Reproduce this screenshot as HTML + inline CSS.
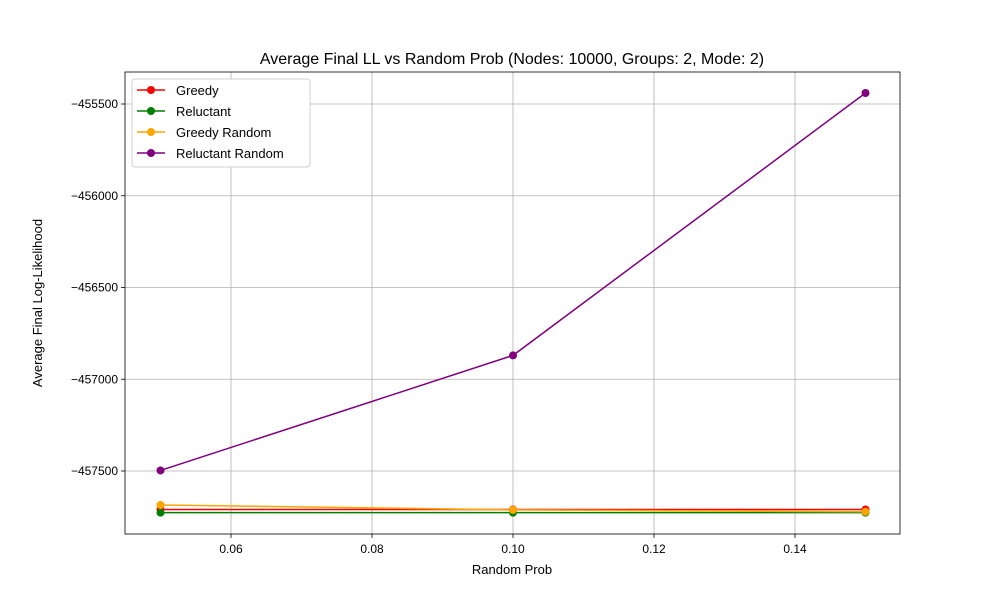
<!DOCTYPE html>
<html><head><meta charset="utf-8"><style>body{margin:0;background:#fff}svg{display:block;font-family:"Liberation Sans","DejaVu Sans",sans-serif}</style></head>
<body>
<svg id="chart" width="1000" height="600"></svg>
<script>
const xValues=[0.05,0.10,0.15];
const seriesNames=["Greedy","Reluctant","Greedy Random","Reluctant Random"];
const seriesColors=["red","green","orange","purple"];
const greedy=[-457710,-457710,-457710];
const reluctant=[-457727,-457727,-457727];
const greedyRandom=[-457685,-457712,-457722];
const reluctantRandom=[-457497,-456870,-455440];
const xTicks=[0.06,0.08,0.10,0.12,0.14];
const xTickLabels=["0.06","0.08","0.10","0.12","0.14"];
const yTicks=[-455500,-456000,-456500,-457000,-457500];
const yTickLabels=["\u2212455500","\u2212456000","\u2212456500","\u2212457000","\u2212457500"];
const allSeries=[greedy,reluctant,greedyRandom,reluctantRandom];
const NS="http://www.w3.org/2000/svg";
const svg=document.getElementById('chart');
const L=125,R=900,T=72,B=534;
function sx(v){return 160.5+(v-0.05)/0.10*705;}
function sy(v){return 104+(-455500-v)/500*91.75;}
function mk(tag,a,p){const e=document.createElementNS(NS,tag);for(const k in a)e.setAttribute(k,a[k]);(p||svg).appendChild(e);return e;}
const title=mk('text',{x:512,y:64,'text-anchor':'middle','font-size':16,fill:'#000'});title.textContent="Average Final LL vs Random Prob (Nodes: 10000, Groups: 2, Mode: 2)";


xTicks.forEach((t,i)=>{const x=sx(t);
const g=mk('line',{x1:x,x2:x,y1:T,y2:B,stroke:'#b0b0b0','stroke-width':0.8});


mk('line',{x1:x,x2:x,y1:B,y2:B+4,stroke:'#000','stroke-width':0.8});
const tx=mk('text',{x:x,y:B+19,'text-anchor':'middle','font-size':12});tx.textContent=xTickLabels[i];

});
yTicks.forEach((t,i)=>{const y=sy(t);
const g=mk('line',{x1:L,x2:R,y1:y,y2:y,stroke:'#b0b0b0','stroke-width':0.8});


mk('line',{x1:L-4,x2:L,y1:y,y2:y,stroke:'#000','stroke-width':0.8});
const tx=mk('text',{x:L-7,y:y+4,'text-anchor':'end','font-size':12});tx.textContent=yTickLabels[i];

});
allSeries.forEach((s,k)=>{
const pl=mk('polyline',{points:s.map((v,i)=>sx(xValues[i])+','+sy(v)).join(' '),fill:'none',stroke:seriesColors[k],'stroke-width':1.5});


s.forEach((v,i)=>{const c=mk('circle',{cx:sx(xValues[i]),cy:sy(v),r:4,fill:seriesColors[k]});

});});
const fr=mk('rect',{x:L,y:T,width:R-L,height:B-T,fill:'none',stroke:'#000','stroke-width':0.8});


const xl=mk('text',{x:512,y:574,'text-anchor':'middle','font-size':13});xl.textContent="Random Prob";


const yl=mk('text',{x:42,y:303,'text-anchor':'middle','font-size':13,transform:'rotate(-90 42 303)'});yl.textContent="Average Final Log-Likelihood";


const lg=mk('g',{});


mk('rect',{x:132,y:79,width:178,height:88,rx:3,fill:'#fff',stroke:'#ccc','stroke-opacity':0.9},lg);
seriesNames.forEach((n,k)=>{const y=90+k*21;
const e=mk('g',{},lg);


mk('line',{x1:137,x2:165,y1:y,y2:y,stroke:seriesColors[k],'stroke-width':1.5},e);
mk('circle',{cx:151,cy:y,r:4,fill:seriesColors[k]},e);
const t=mk('text',{x:176,y:y+5,'font-size':13},e);t.textContent=n;});
</script>
</body></html>
